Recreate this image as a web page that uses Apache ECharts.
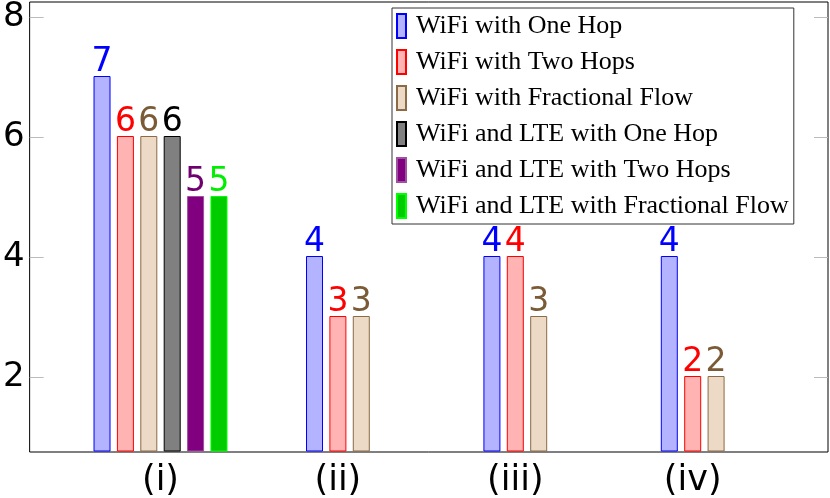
<!DOCTYPE html>
<html>
<head>
<meta charset="utf-8">
<script src="https://cdn.jsdelivr.net/npm/echarts@6/dist/echarts.min.js"></script>
<style>
html, body { margin: 0; padding: 0; background: #fff; }
#grafico { width: 830px; height: 498px; }
</style>
</head>
<body>
<div id="grafico"></div>
<script>
var categorias = ['(i)', '(ii)', '(iii)', '(iv)'];
var nombres = ['WiFi with One Hop', 'WiFi with Two Hops', 'WiFi with Fractional Flow',
    'WiFi and LTE with One Hop', 'WiFi and LTE with Two Hops', 'WiFi and LTE with Fractional Flow'];
var wifiUnSalto = [7, 4, 4, 4];
var wifiDosSaltos = [6, 3, 4, 2];
var wifiFraccional = [6, 3, 3, 2];
var lteUnSalto = [6, '-', '-', '-'];
var lteDosSaltos = [5, '-', '-', '-'];
var lteFraccional = [5, '-', '-', '-'];
var ticksY = [2, 4, 6, 8];

var rellenos = ['#b3b3ff', '#ffb3b3', '#ecd9c6', '#808080', '#800080', '#00cc00'];
var bordes = ['#0000ff', '#ff0000', '#8b6a45', '#000000', '#a050a0', '#00ff00'];
var textos = ['#0000ff', '#ff0000', '#7b5a36', '#000000', '#700070', '#00ee00'];

function serie(i, datos, eje) {
    return {
        name: nombres[i],
        type: 'bar',
        xAxisIndex: eje,
        yAxisIndex: 2,
        data: datos,
        barWidth: 17,
        barGap: '37.6%',
        itemStyle: {
            color: rellenos[i],
            borderColor: bordes[i],
            borderWidth: 1
        },
        label: {
            show: true,
            position: 'top',
            distance: -3,
            fontFamily: 'DejaVu Sans',
            fontSize: 33,
            color: textos[i]
        }
    };
}

// grupo (i): seis barras; grupos (ii)-(iv): solo las tres de WiFi
function soloPrimero(arr) {
    return arr.map(function (v, k) { return k === 0 ? v : '-'; });
}
function sinPrimero(arr) {
    return arr.map(function (v, k) { return k === 0 ? '-' : v; });
}

var myChart = echarts.init(document.getElementById('grafico'));
option = {
    animation: false,
    legend: {
        orient: 'vertical',
        left: 392,
        top: 8,
        data: nombres,
        padding: [5, 5, 5, 4],
        itemWidth: 9,
        itemHeight: 24,
        itemGap: 10,
        icon: 'rect',
        borderColor: '#333',
        borderWidth: 1,
        textStyle: {
            fontFamily: 'Liberation Serif',
            fontSize: 26,
            color: '#000',
            lineHeight: 24,
            padding: [0, 0, 0, 5]
        }
    },
    grid: [{
        left: 26, right: 2, top: 1, bottom: 46,
        show: true,
        borderColor: '#000',
        borderWidth: 1
    }, {
        left: 71.8, right: 48.6, top: 1, bottom: 46
    }],
    xAxis: [{
        gridIndex: 0, type: 'value', show: false
    }, {
        gridIndex: 1,
        type: 'category',
        data: categorias,
        axisLine: { show: false },
        axisTick: {
            alignWithLabel: true,
            length: 9,
            lineStyle: { color: '#999' }
        },
        axisLabel: {
            fontFamily: 'DejaVu Sans',
            fontSize: 35,
            color: '#000',
            margin: 12
        }
    }, {
        gridIndex: 1,
        type: 'category',
        data: categorias,
        show: false
    }],
    yAxis: [{
        gridIndex: 0,
        type: 'value',
        position: 'left',
        min: 0.75,
        max: 8.25,
        splitLine: { show: false },
        axisLine: { show: false },
        axisTick: {
            inside: true,
            length: 14,
            customValues: ticksY,
            lineStyle: { color: '#bbb' }
        },
        axisLabel: {
            customValues: ticksY,
            fontFamily: 'DejaVu Sans',
            fontSize: 34,
            color: '#000',
            margin: 5
        }
    }, {
        gridIndex: 0,
        type: 'value',
        position: 'right',
        min: 0.75,
        max: 8.25,
        splitLine: { show: false },
        axisLine: { show: false },
        axisTick: {
            inside: true,
            length: 14,
            customValues: ticksY,
            lineStyle: { color: '#bbb' }
        },
        axisLabel: { show: false }
    }, {
        gridIndex: 1,
        type: 'value',
        min: 0.75,
        max: 8.25,
        show: false
    }],
    series: [
        serie(0, soloPrimero(wifiUnSalto), 1),
        serie(1, soloPrimero(wifiDosSaltos), 1),
        serie(2, soloPrimero(wifiFraccional), 1),
        serie(3, lteUnSalto, 1),
        serie(4, lteDosSaltos, 1),
        serie(5, lteFraccional, 1),
        serie(0, sinPrimero(wifiUnSalto), 2),
        serie(1, sinPrimero(wifiDosSaltos), 2),
        serie(2, sinPrimero(wifiFraccional), 2)
    ]
};
myChart.setOption(option, true);
</script>
</body>
</html>
